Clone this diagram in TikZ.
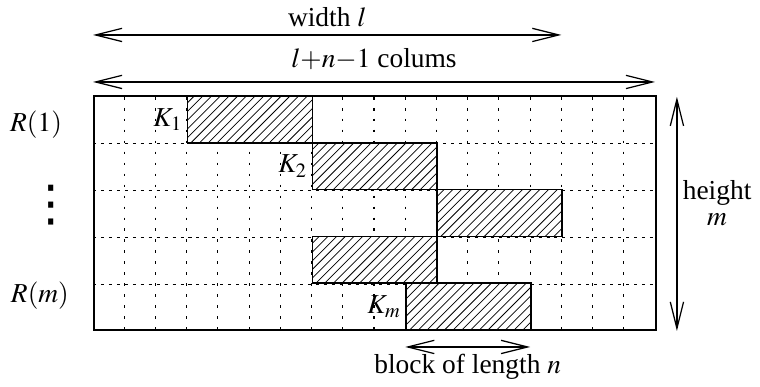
\documentclass[tikz,border=0pt]{standalone}
\usepackage{mathptmx}
\usepackage{fontspec}
\setmainfont{Liberation Serif}
\newfontfamily\dotsfont{DejaVu Sans}
\usetikzlibrary{positioning,arrows.meta}

\begin{document}
\begin{tikzpicture}[
  font=\fontsize{20}{19}\selectfont,
  >={Straight Barb[length=0.68cm,width=0.34cm]},
  dimline/.style={<->, line width=0.9pt},
  vgrid/.style={line width=0.8pt, dash pattern=on 2pt off 6pt},
  hgrid/.style={line width=0.8pt, dash pattern=on 2.2pt off 3.6pt},
  blk/.style={draw, line width=1.3pt, fill=white, minimum width=3.2cm, minimum height=1.2cm,
              anchor=south west, inner sep=0pt,
              path picture={\foreach \k in {0,...,20}
                \draw[line width=0.55pt] ([xshift=-1.25cm+\k*0.223cm]path picture bounding box.south west) -- ++(1.5,1.5);}},
]
  \useasboundingbox (-2.383,-1.435) rectangle (17.089,8.480);

  % dotted grid: 18 columns, 5 rows
  \foreach \i in {1,...,17}
    \draw[vgrid] (0.8*\i,6) -- (0.8*\i,0);
  \foreach \j in {1,...,4}
    \draw[hgrid] (0,1.2*\j) -- (14.4,1.2*\j);
  \node[draw, line width=1.1pt, minimum width=14.4cm, minimum height=6cm,
        anchor=south west, inner sep=0pt] (mat) at (0,0) {};

  % hatched blocks
  \node[blk] (b1) at (2.4,4.8) {};
  \node[blk] (b2) at (5.6,3.6) {};
  \node[blk] (b3) at (8.8,2.4) {};
  \node[blk] (b4) at (5.6,1.2) {};
  \node[blk] (b5) at (8.0,0)   {};

  \node[left=0pt of b1.west] (k1) {$K_1$};
  \node[left=0pt of b2.west] (k2) {$K_2$};
  \node[left=0pt of b5.west] (km) {$K_m$};

  % row names
  \node[anchor=base] (r1) at (-1.46,5.10) {$R(1)$};
  \node[font=\dotsfont\fontsize{36}{36}\selectfont] (rdots) at (-1.08,3.23) {⋮};
  \node[anchor=base] (rm) at (-1.36,0.74) {$R(m)$};

  % dimensions
  \coordinate (wl) at (0,7.584);
  \coordinate (wr) at (12.0,7.584);
  \draw[dimline] (wl) -- node[above=2pt] (wtxt) {width $l$} (wr);

  \coordinate (cl) at (0,6.38);
  \coordinate (cr) at (14.4,6.38);
  \draw[dimline] (cl) -- node[above=5pt] (ctxt) {$l{+}n{-}1$ colums} (cr);

  \coordinate (ht) at (14.96,6);
  \coordinate (hb) at (14.96,0);
  \draw[dimline] (ht) -- (hb);
  \node[align=center] (htxt) at (15.99,3.27) {height\\$m$};

  \coordinate (nl) at (8.0,-0.41);
  \coordinate (nr) at (11.2,-0.41);
  \draw[dimline] (nl) -- node[below=1.5pt] (ntxt) {block of length $n$} (nr);
\end{tikzpicture}
\end{document}
